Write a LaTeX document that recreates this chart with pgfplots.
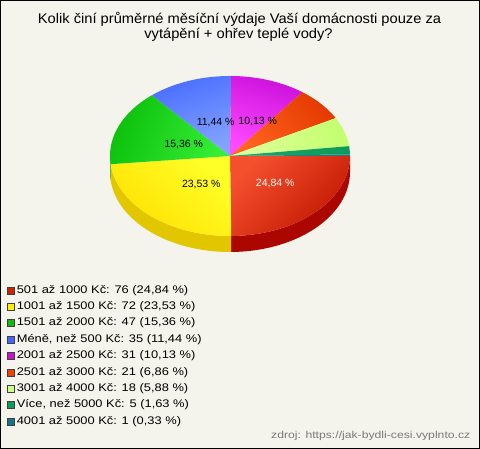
\documentclass[border=0pt]{standalone}
\usepackage{pgfplots}
\pgfplotsset{compat=1.18}
\usepackage{fontspec}
\setmainfont{Liberation Sans}
\newfontfamily\titlefont[FakeStretch=1.05]{Liberation Sans}
\newfontfamily\legfont[FakeStretch=1.17]{Liberation Sans}
\newfontfamily\srcfont[FakeStretch=1.22]{Liberation Sans}

\definecolor{bg}{RGB}{244,243,236}
% top face colours (light near centre, dark at rim)
\definecolor{redL}{HTML}{F4502E}\definecolor{redD}{HTML}{C01600}
\definecolor{yelL}{HTML}{FFFF28}\definecolor{yelD}{HTML}{FFE000}
\definecolor{grnL}{HTML}{36EE36}\definecolor{grnD}{HTML}{0CC00C}
\definecolor{bluL}{HTML}{84A4FF}\definecolor{bluD}{HTML}{4A6EFF}
\definecolor{magL}{HTML}{FF4CFF}\definecolor{magD}{HTML}{CC10DD}
\definecolor{oraL}{HTML}{FF6420}\definecolor{oraD}{HTML}{E43A00}
\definecolor{lgrL}{HTML}{DEFF9A}\definecolor{lgrD}{HTML}{C4FF70}
\definecolor{dgrL}{HTML}{1CAA68}\definecolor{dgrD}{HTML}{0E9A5A}
\definecolor{teaL}{HTML}{2A8C90}\definecolor{teaD}{HTML}{1A7A80}
% side colours
\definecolor{redS}{HTML}{AC0600}
\definecolor{yelS}{HTML}{E2C600}
\definecolor{grnS}{HTML}{0EA00E}
% legend swatches
\definecolor{lgA}{HTML}{CC2200}
\definecolor{lgB}{HTML}{FFEE00}
\definecolor{lgC}{HTML}{11BB11}
\definecolor{lgD}{HTML}{4466FF}
\definecolor{lgE}{HTML}{CC11CC}
\definecolor{lgF}{HTML}{EE4400}
\definecolor{lgG}{HTML}{CCFF88}
\definecolor{lgH}{HTML}{119955}
\definecolor{lgI}{HTML}{117788}

% counts: 76, 72, 47, 35, 31, 21, 18, 5, 1  (total 306)
\pgfmathsetmacro\aA{0}
\pgfmathsetmacro\aB{76/306*360}
\pgfmathsetmacro\aC{(76+72)/306*360}
\pgfmathsetmacro\aD{(76+72+47)/306*360}
\pgfmathsetmacro\aE{(76+72+47+35)/306*360}
\pgfmathsetmacro\aF{(76+72+47+35+31)/306*360}
\pgfmathsetmacro\aG{(76+72+47+35+31+21)/306*360}
\pgfmathsetmacro\aH{(76+72+47+35+31+21+18)/306*360}
\pgfmathsetmacro\aI{(76+72+47+35+31+21+18+5)/306*360}
\pgfmathsetmacro\aJ{360}

% pie: centre (230,293), rx 120, ry 80, depth 16 (axis units = pt)
\newcommand\topslice[5]{%
  \addplot[forget plot, draw=none, top color=#3, bottom color=#4, shading angle=#5,
    domain=#1:#2, samples=60, variable=\t]
    ({230+120*cos(\t)}, {293-80*sin(\t)}) -- (axis cs:230,293);}
% side: t in [0,1] top arc A->B, [1,2] vertical drop at B, [2,3] bottom arc B->A
\newcommand\sideslice[3]{%
  \addplot[forget plot, draw=none, fill=#3, domain=0:3, samples=121, variable=\t]
    ({230+120*cos((\t<1) ? (#1+\t*(#2-#1)) : ((\t<2) ? (#2) : (#2-(\t-2)*(#2-#1))))},
     {293-80*sin((\t<1) ? (#1+\t*(#2-#1)) : ((\t<2) ? (#2) : (#2-(\t-2)*(#2-#1))))
        - ((\t<1) ? 0 : ((\t<2) ? (16*(\t-1)) : 16))});}

\begin{document}
\begin{tikzpicture}
\fill[bg] (0,0) rectangle (480pt,449pt);
\begin{axis}[
  width=480pt, height=449pt, scale only axis,
  xmin=0, xmax=480, ymin=0, ymax=449,
  hide axis, clip=false,
  legend image code/.code={\draw[#1, draw=black!75, line width=0.6pt] (0pt,-3.5pt) rectangle (7pt,3.5pt);},
  legend style={at={(0.0146,0.3653)}, anchor=north west, draw=none, fill=none,
    inner sep=0pt, row sep=5.9pt,
    font=\legfont\fontsize{11}{13}\selectfont,
    nodes={inner xsep=2pt, inner ysep=0pt, text height=8pt, text depth=2.5pt}},
  legend cell align=left,
]
% sides (front half)
\sideslice{\aA}{\aB}{redS}
\sideslice{\aB}{\aC}{yelS}
\sideslice{\aC}{180}{grnS}
% top faces
\topslice{\aA}{\aB}{redL}{redD}{45.3}
\topslice{\aB}{\aC}{yelL}{yelD}{-41.8}
\topslice{\aC}{\aD}{grnL}{grnD}{-111.8}
\topslice{\aD}{\aE}{bluL}{bluD}{-160}
\topslice{\aE}{\aF}{magL}{magD}{-198.8}
\topslice{\aF}{\aG}{oraL}{oraD}{-229.4}
\topslice{\aG}{\aH}{lgrL}{lgrD}{-252.4}
\topslice{\aH}{\aI}{dgrL}{dgrD}{-265.9}
\topslice{\aI}{\aJ}{teaL}{teaD}{-269.4}

% legend
\addlegendimage{fill=lgA}\addlegendentry{501 až 1000 Kč: 76 (24,84 \%)}
\addlegendimage{fill=lgB}\addlegendentry{1001 až 1500 Kč: 72 (23,53 \%)}
\addlegendimage{fill=lgC}\addlegendentry{1501 až 2000 Kč: 47 (15,36 \%)}
\addlegendimage{fill=lgD}\addlegendentry{Méně, než 500 Kč: 35 (11,44 \%)}
\addlegendimage{fill=lgE}\addlegendentry{2001 až 2500 Kč: 31 (10,13 \%)}
\addlegendimage{fill=lgF}\addlegendentry{2501 až 3000 Kč: 21 (6,86 \%)}
\addlegendimage{fill=lgG}\addlegendentry{3001 až 4000 Kč: 18 (5,88 \%)}
\addlegendimage{fill=lgH}\addlegendentry{Více, než 5000 Kč: 5 (1,63 \%)}
\addlegendimage{fill=lgI}\addlegendentry{4001 až 5000 Kč: 1 (0,33 \%)}

% slice labels
\node[anchor=base, text=white, font=\fontsize{10.5}{12}\selectfont, inner sep=0pt] at (axis cs:275.2,262.5) {24,84 \%};
\node[anchor=base, font=\fontsize{10.5}{12}\selectfont, inner sep=0pt] at (axis cs:201.3,261.1) {23,53 \%};
\node[anchor=base, font=\fontsize{10.5}{12}\selectfont, inner sep=0pt] at (axis cs:183.8,301.8) {15,36 \%};
\node[anchor=base, font=\fontsize{10.5}{12}\selectfont, inner sep=0pt] at (axis cs:215.7,323.5) {11,44 \%};
\node[anchor=base, font=\fontsize{10.5}{12}\selectfont, inner sep=0pt] at (axis cs:257.7,324.1) {10,13 \%};

% title
\node[anchor=base, font=\titlefont\fontsize{14}{15}\selectfont, inner sep=0pt] at (axis cs:239.5,425) {Kolik činí průměrné měsíční výdaje Vaší domácnosti pouze za};
\node[anchor=base, font=\titlefont\fontsize{14}{15}\selectfont, inner sep=0pt] at (axis cs:238.5,410.7) {vytápění + ohřev teplé vody?};
% source
\node[anchor=base east, text=black!52, font=\srcfont\fontsize{10}{12}\selectfont, inner sep=0pt] at (axis cs:470.5,10) {zdroj: https://jak-bydli-cesi.vyplnto.cz};
\end{axis}
\draw[black, line width=1.2pt] (0.6pt,0.6pt) rectangle (479.4pt,448.4pt);
\end{tikzpicture}
\end{document}
